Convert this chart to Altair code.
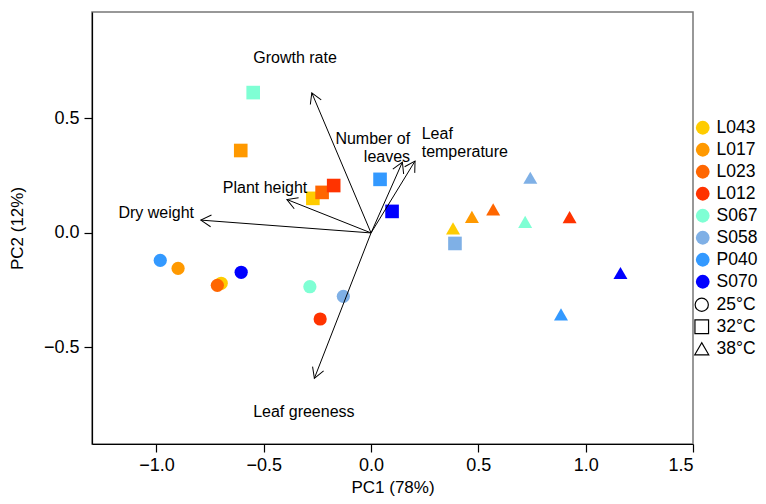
import altair as alt
import pandas as pd

# ---- data ----
genotypes = ["L043", "L017", "L023", "L012", "S067", "S058", "P040", "S070"]
geno_colors = ["#FFCC00", "#FF9900", "#FF6600", "#FF3300", "#7FFFD4", "#7FB0E6", "#3399FF", "#0000FF"]
temps = ["25°C", "32°C", "38°C"]

pc1_25 = [-0.698, -0.899, -0.716, -0.237, -0.285, -0.129, -0.982, -0.605]
pc2_25 = [-0.220, -0.155, -0.229, -0.376, -0.235, -0.277, -0.120, -0.172]
pc1_32 = [-0.271, -0.607, -0.228, -0.174, -0.549, 0.391, 0.042, 0.098]
pc2_32 = [0.151, 0.360, 0.177, 0.207, 0.613, -0.046, 0.234, 0.094]
pc1_38 = [0.382, 0.470, 0.569, 0.925, 0.718, 0.742, 0.885, 1.162]
pc2_38 = [0.020, 0.070, 0.103, 0.069, 0.048, 0.241, -0.356, -0.175]

variables = ["Growth rate", "Number of leaves", "Leaf temperature", "Plant height", "Dry weight", "Leaf greeness"]
load_pc1 = [-0.276, 0.146, 0.205, -0.392, -0.793, -0.264]
load_pc2 = [0.612, 0.309, 0.314, 0.146, 0.056, -0.635]
label_text = ["Growth rate", "Number of\nleaves", "Leaf\ntemperature", "Plant height", "Dry weight", "Leaf greeness"]
label_pc1 = [-0.354, 0.182, 0.236, -0.494, -1.001, -0.313]
label_pc2 = [0.766, 0.410, 0.434, 0.197, 0.085, -0.783]

x_ticks = [-1.0, -0.5, 0.0, 0.5, 1.0, 1.5]
y_ticks = [-0.5, 0.0, 0.5]

# ---- tables ----
rows = []
for t, xs, ys in zip(temps, [pc1_25, pc1_32, pc1_38], [pc2_25, pc2_32, pc2_38]):
    for g, xv, yv in zip(genotypes, xs, ys):
        rows.append({"genotype": g, "temp": t, "PC1": xv, "PC2": yv})
scores = pd.DataFrame(rows)

loads = pd.DataFrame({
    "variable": variables,
    "x0": [0.0] * len(variables),
    "y0": [0.0] * len(variables),
    "PC1": load_pc1,
    "PC2": load_pc2,
    "label": label_text,
    "lx": label_pc1,
    "ly": label_pc2,
})

FONT = "Liberation Sans"
W, H = 601, 432
XDOM = [-1.30, 1.50]
YDOM = [-0.922, 0.965]

xscale = alt.Scale(domain=XDOM, nice=False, zero=False)
yscale = alt.Scale(domain=YDOM, nice=False, zero=False)

xaxis = alt.Axis(values=x_ticks, format=".1f", title="PC1 (78%)", grid=False)
yaxis = alt.Axis(values=y_ticks, format=".1f", title="PC2 (12%)", grid=False)

temp_legend = alt.Legend(
    title=None, orient="none", legendX=601, legendY=284,
    symbolFillColor="white", symbolStrokeColor="black", symbolStrokeWidth=1.2,
    labelFontSize=17.5, labelFont=FONT, labelColor="black",
    labelOffset=6, rowPadding=3, padding=0,
)

points = alt.Chart(scores).mark_point(filled=True, opacity=1).encode(
    x=alt.X("PC1:Q", scale=xscale, axis=xaxis),
    y=alt.Y("PC2:Q", scale=yscale, axis=yaxis),
    color=alt.Color(
        "genotype:N",
        scale=alt.Scale(domain=genotypes, range=geno_colors),
        sort=genotypes,
        legend=alt.Legend(
            title=None, orient="none", legendX=602, legendY=107,
            symbolType="circle", symbolSize=190, symbolStrokeWidth=0,
            labelFontSize=17.5, labelFont=FONT, labelColor="black",
            labelOffset=5, rowPadding=3, padding=0,
        ),
    ),
    shape=alt.Shape(
        "temp:N",
        scale=alt.Scale(domain=temps, range=["circle", "square", "triangle-up"]),
        legend=temp_legend,
    ),
    size=alt.Size(
        "temp:N",
        scale=alt.Scale(domain=temps, range=[175, 196, 300]),
        legend=temp_legend,
    ),
)

shafts = alt.Chart(loads).mark_rule(color="black", strokeWidth=1).encode(
    x=alt.X("x0:Q", scale=xscale, axis=xaxis),
    y=alt.Y("y0:Q", scale=yscale, axis=yaxis),
    x2="PC1:Q",
    y2="PC2:Q",
)

px_per_x = W / (XDOM[1] - XDOM[0])
px_per_y = H / (YDOM[1] - YDOM[0])
heads = alt.Chart(loads).transform_calculate(
    ang=f"(atan2(datum.PC1 * {px_per_x}, datum.PC2 * {px_per_y}) * 180 / PI + 360) % 360"
).mark_point(
    shape="M-0.5,0.866L0,0L0.5,0.866", filled=False, color="black",
    strokeWidth=1, size=560, opacity=1,
).encode(
    x=alt.X("PC1:Q", scale=xscale, axis=xaxis),
    y=alt.Y("PC2:Q", scale=yscale, axis=yaxis),
    angle=alt.Angle("ang:Q", scale=None),
)

def labels(filter_expr, align):
    return alt.Chart(loads).transform_filter(filter_expr).mark_text(
        align=align, baseline="middle", font=FONT, fontSize=16,
        color="black", lineBreak="\n", lineHeight=18,
    ).encode(
        x=alt.X("lx:Q", scale=xscale, axis=xaxis),
        y=alt.Y("ly:Q", scale=yscale, axis=yaxis),
        text="label:N",
    )

lab_c = labels("datum.variable != 'Number of leaves' && datum.variable != 'Leaf temperature'", "center")
lab_r = labels("datum.variable == 'Number of leaves'", "right")
lab_l = labels("datum.variable == 'Leaf temperature'", "left")

chart = alt.layer(points, shafts, heads, lab_c, lab_r, lab_l).properties(
    width=W, height=H,
    autosize=alt.AutoSizeParams(type="none"),
    padding={"left": 84, "top": 4, "right": 65, "bottom": 52},
    background="white",
).configure_view(
    stroke="#777777", strokeWidth=1.5,
).configure_axis(
    domainColor="black", domainWidth=1.2, tickColor="black", tickWidth=1.2,
    tickSize=8, labelFont=FONT, labelFontSize=18, labelColor="black",
    titleFont=FONT, titleFontSize=17, titleFontWeight="normal", titleColor="black",
).configure_axisX(
    labelPadding=4, titlePadding=5,
).configure_axisY(
    labelPadding=5, titlePadding=17,
)

chart.save("out.html", embed_options={"renderer": "svg", "actions": False})
